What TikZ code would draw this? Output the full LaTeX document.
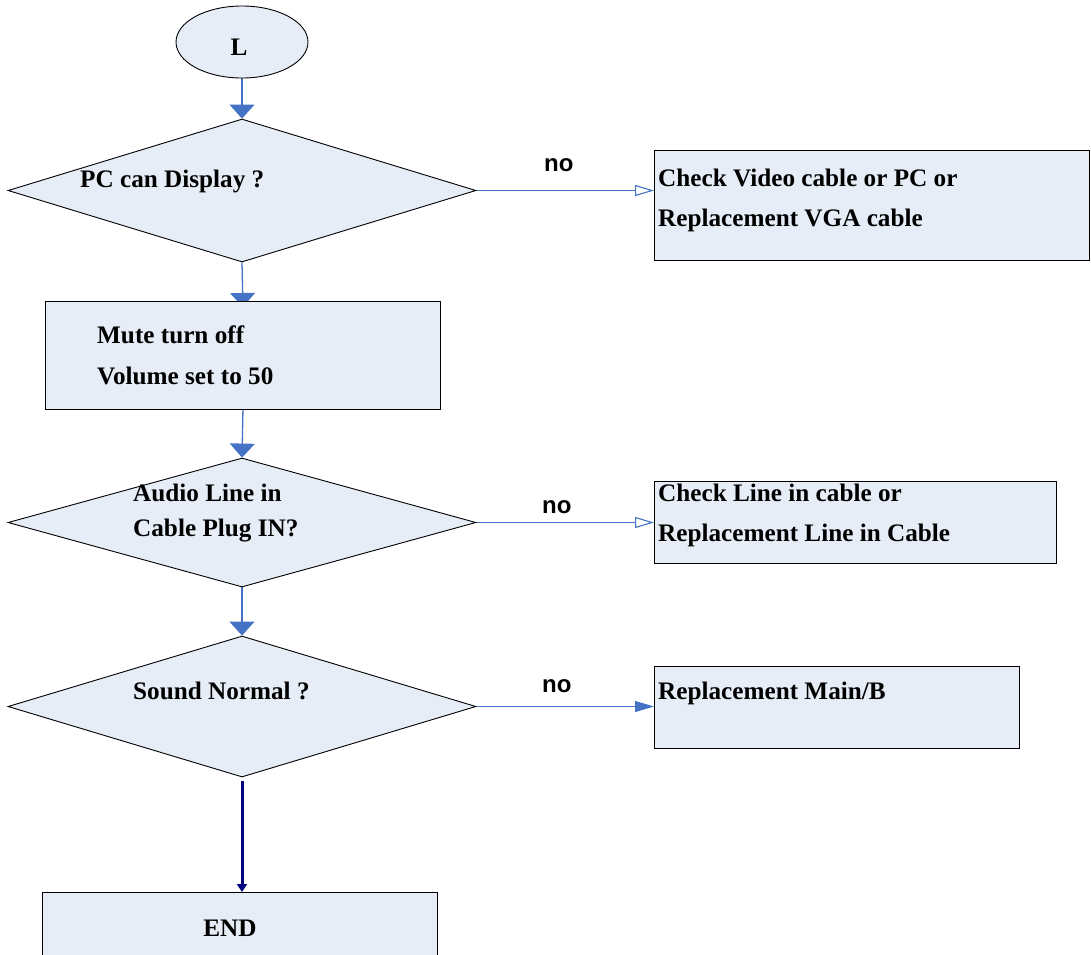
\documentclass[tikz,border=0pt]{standalone}
\usepackage{fontspec}
\setmainfont{Liberation Serif}
\newfontfamily\arialfont{Liberation Sans}
\usetikzlibrary{shapes.geometric,arrows.meta}
\definecolor{boxfill}{RGB}{231,237,247}
\definecolor{conn}{RGB}{68,114,196}
\definecolor{endconn}{RGB}{0,0,128}
\pgfdeclarelayer{bg}
\pgfsetlayers{bg,main}
\begin{document}
\begin{tikzpicture}[x=1pt,y=-1pt,
  shp/.style={draw=black,line width=0.9pt,fill=boxfill,inner sep=0pt},
  rbox/.style={shp,rectangle,anchor=north west},
  dia/.style={shp,diamond,minimum width=468pt},
  txt/.style={anchor=base west,inner sep=0pt,font=\fontsize{25.2}{29}\selectfont\bfseries},
  notxt/.style={anchor=base west,inner sep=0pt,font=\fontsize{24}{28}\selectfont\arialfont\bfseries},
  conna/.style={draw=conn,line width=1.3pt,-{Triangle[length=14pt,width=25pt]},color=conn},
  openarr/.style={draw=conn,line width=1.1pt,-{Triangle[open,length=19pt,width=11pt,fill=white]}},
  filarr/.style={draw=conn,line width=1.1pt,-{Triangle[length=19pt,width=11pt]},color=conn},
  endarr/.style={draw=endconn,line width=3pt,-{Triangle[length=8pt,width=10pt]},color=endconn}
]
\useasboundingbox (0,0) rectangle (1091,954);
% shapes
\node[shp,ellipse,minimum width=132pt,minimum height=72pt] (L) at (242,42) {};
\node[dia,minimum height=143pt] (d1) at (242,190.5) {};
\node[rbox,minimum width=435pt,minimum height=110pt] (b1) at (654,150) {};
\node[rbox,minimum width=395pt,minimum height=108pt] (b2) at (45,301) {};
\node[dia,minimum height=129pt] (d2) at (242,522.5) {};
\node[rbox,minimum width=402pt,minimum height=82pt] (b3) at (654,481) {};
\node[dia,minimum height=141pt] (d3) at (242,706.5) {};
\node[rbox,minimum width=365pt,minimum height=82pt] (b4) at (654,666) {};
\node[rbox,minimum width=395pt,minimum height=80pt] (b5) at (42,892) {};
\coordinate (b2in) at ([yshift=-6pt]b2.north);
% texts
\node[txt,anchor=base] (tL) at (239,55) {L};
\node[txt] (t1) at (80,187) {PC can Display ?};
\node[txt] (t2) at (658,186) {Check Video cable or PC or};
\node[txt] (t3) at (658,226) {Replacement VGA cable};
\node[txt] (t4) at (97,343) {Mute turn off};
\node[txt] (t5) at (97,384) {Volume set to 50};
\node[txt] (t6) at (133,501) {Audio Line in};
\node[txt] (t7) at (133,536) {Cable Plug IN?};
\node[txt] (t8) at (658,501) {Check Line in cable or};
\node[txt] (t9) at (658,541) {Replacement Line in Cable};
\node[txt] (t10) at (133,699) {Sound Normal ?};
\node[txt] (t11) at (658,699) {Replacement Main/B};
\node[txt,anchor=base] (t12) at (230,936) {END};
\node[notxt] (n1) at (544,171) {no};
\node[notxt] (n2) at (542,513) {no};
\node[notxt] (n3) at (542,692) {no};
% connectors
\begin{pgfonlayer}{bg}
\draw[conna] (L.south) -- (d1.north);
\draw[conna] (d1.south) -- (b2in);
\draw[conna] (b2.south) -- (d2.north);
\draw[conna] (d2.south) -- (d3.north);
\draw[openarr] (d1.east) -- (d1.east -| b1.west);
\draw[openarr] (d2.east) -- (d2.east -| b3.west);
\draw[filarr] (d3.east) -- (d3.east -| b4.west);
\draw[endarr] ([yshift=-4pt]d3.south) -- (d3.south |- b5.north);
\end{pgfonlayer}
\end{tikzpicture}
\end{document}
